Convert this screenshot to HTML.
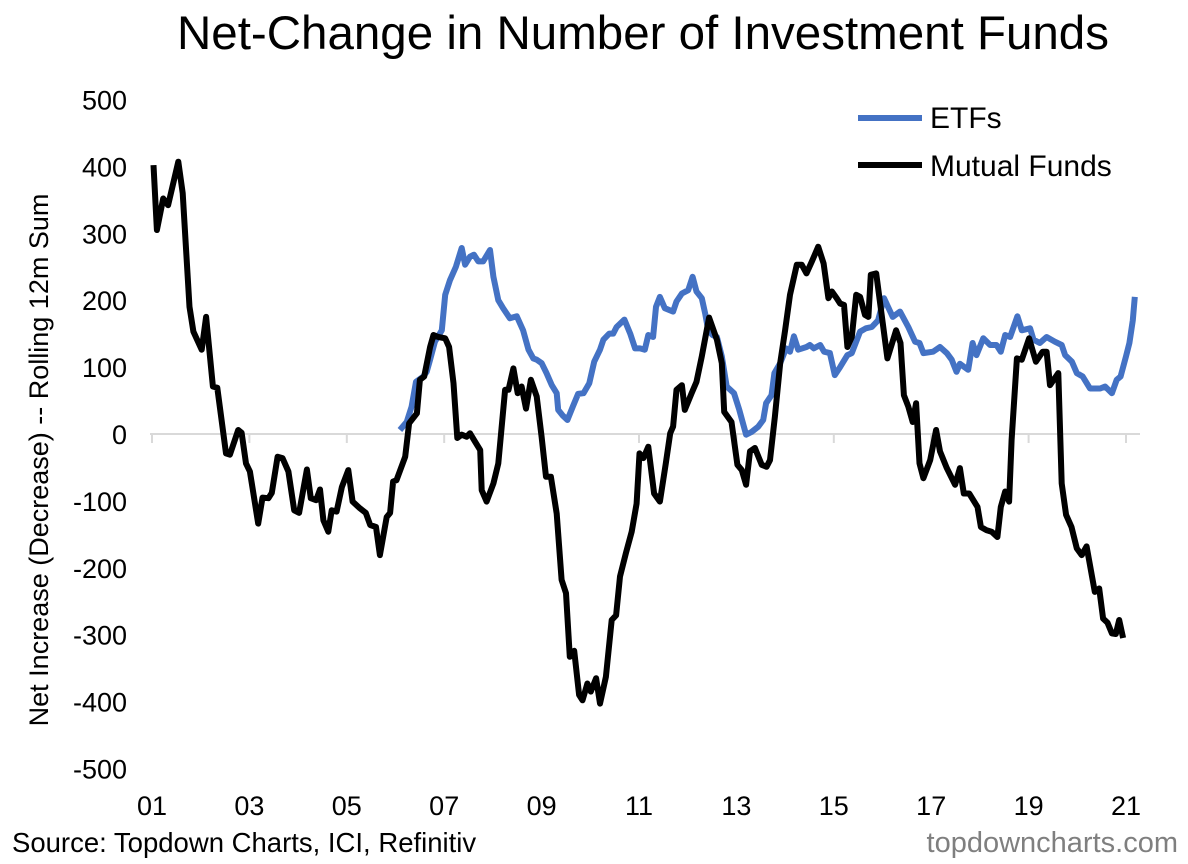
<!DOCTYPE html>
<html><head><meta charset="utf-8"><style>
body{margin:0;background:#fff;}
svg{display:block;font-family:"Liberation Sans",Arial,sans-serif;}
</style></head><body>
<svg id="chart" width="1188" height="864" viewBox="0 0 1188 864" xmlns="http://www.w3.org/2000/svg">
<text x="643" y="49" font-size="47.5" text-anchor="middle" fill="#000">Net-Change in Number of Investment Funds</text>
<text transform="translate(48,460) rotate(-90)" font-size="27" text-anchor="middle" fill="#000">Net Increase (Decrease) -- Rolling 12m Sum</text>
<g id="yticks"></g>
<g id="xticks"></g>
<g id="series"></g>
<g>
<line x1="858" y1="118" x2="922" y2="118" stroke="#4472C4" stroke-width="6"/>
<text x="930" y="128" font-size="30">ETFs</text>
<line x1="858" y1="165" x2="922" y2="165" stroke="#000" stroke-width="6"/>
<text x="930" y="176" font-size="30">Mutual Funds</text>
</g>
<text x="12" y="852" font-size="27.5" fill="#000">Source: Topdown Charts, ICI, Refinitiv</text>
<text x="1178" y="852" font-size="29" text-anchor="end" fill="#7f7f7f">topdowncharts.com</text>
</svg>
<script>
const yTicks=[500,400,300,200,100,0,-100,-200,-300,-400,-500];
const xTickYears=[2001,2003,2005,2007,2009,2011,2013,2015,2017,2019,2021];
const xTickLabels=["01","03","05","07","09","11","13","15","17","19","21"];
const mfOffsets=[0.03,0.10,0.23,0.33,0.54,0.63,0.77,0.85,1.02,1.11,1.25,1.34,1.52,1.60,1.77,1.84,1.93,2.01,2.18,2.27,2.39,2.46,2.58,2.68,2.80,2.92,3.02,3.18,3.26,3.37,3.45,3.52,3.62,3.69,3.79,3.90,4.03,4.12,4.27,4.39,4.48,4.60,4.68,4.82,4.89,4.95,5.02,5.20,5.28,5.44,5.50,5.59,5.71,5.78,5.88,6.02,6.10,6.19,6.27,6.36,6.46,6.53,6.63,6.74,6.77,6.87,7.01,7.11,7.25,7.32,7.42,7.51,7.59,7.68,7.78,7.90,8.00,8.09,8.19,8.31,8.41,8.50,8.58,8.67,8.77,8.84,8.94,9.01,9.12,9.20,9.32,9.44,9.53,9.61,9.73,9.85,9.95,10.01,10.09,10.19,10.31,10.43,10.55,10.64,10.70,10.77,10.88,10.94,11.08,11.18,11.29,11.44,11.60,11.70,11.75,11.90,12.02,12.11,12.20,12.28,12.38,12.52,12.62,12.69,12.79,12.90,13.00,13.10,13.24,13.34,13.44,13.55,13.68,13.79,13.89,13.96,14.06,14.13,14.21,14.28,14.37,14.46,14.54,14.64,14.71,14.76,14.87,14.98,15.10,15.28,15.37,15.44,15.53,15.62,15.69,15.76,15.84,15.98,16.10,16.18,16.32,16.49,16.59,16.67,16.78,16.95,17.02,17.14,17.24,17.36,17.43,17.52,17.60,17.65,17.76,17.86,18.01,18.15,18.29,18.37,18.44,18.61,18.68,18.77,18.88,18.99,19.09,19.19,19.36,19.45,19.53,19.62,19.71,19.79,19.86,19.94];
const mfValues=[402,305,352,342,407,360,190,153,126,175,71,69,-29,-31,6,2,-44,-56,-134,-95,-96,-88,-34,-36,-56,-114,-118,-53,-96,-99,-83,-129,-146,-114,-116,-79,-54,-101,-111,-118,-136,-139,-181,-124,-118,-71,-69,-34,16,31,81,86,130,148,145,143,130,76,-6,-1,-4,1,-11,-24,-84,-101,-74,-44,66,66,98,61,71,38,81,56,-4,-64,-64,-119,-218,-238,-333,-324,-390,-398,-373,-385,-365,-403,-363,-278,-271,-213,-178,-146,-104,-29,-36,-19,-89,-101,-44,1,11,66,73,36,61,78,116,174,141,106,33,18,-46,-54,-76,-26,-21,-46,-49,-39,26,106,155,208,253,253,240,258,280,255,203,213,203,195,193,130,145,208,205,178,175,238,240,180,113,155,136,58,41,18,46,-44,-66,-39,6,-26,-51,-76,-51,-89,-89,-109,-139,-144,-146,-154,-109,-86,-101,-9,113,111,143,108,123,123,73,91,-74,-121,-139,-171,-181,-168,-236,-231,-276,-282,-298,-299,-278,-305];
const etfOffsets=[5.09,5.23,5.33,5.42,5.57,5.64,5.71,5.81,5.95,6.02,6.12,6.24,6.36,6.43,6.53,6.61,6.70,6.80,6.94,7.01,7.11,7.21,7.35,7.49,7.62,7.73,7.83,7.90,8.00,8.10,8.21,8.31,8.34,8.43,8.53,8.64,8.75,8.86,8.98,9.08,9.20,9.27,9.39,9.47,9.54,9.70,9.82,9.92,10.02,10.12,10.19,10.29,10.35,10.43,10.53,10.70,10.77,10.88,11.01,11.10,11.18,11.29,11.36,11.42,11.51,11.60,11.70,11.80,11.95,12.06,12.20,12.31,12.45,12.55,12.61,12.72,12.78,12.90,13.02,13.10,13.18,13.27,13.44,13.51,13.59,13.72,13.80,13.92,14.02,14.13,14.28,14.37,14.54,14.66,14.78,14.91,15.03,15.21,15.36,15.53,15.67,15.76,15.84,16.04,16.18,16.32,16.42,16.52,16.59,16.76,16.85,16.93,17.07,17.21,17.34,17.43,17.52,17.62,17.77,17.86,18.03,18.10,18.23,18.37,18.54,18.68,18.75,18.89,18.99,19.11,19.26,19.47,19.57,19.71,19.81,19.89,20.00,20.07,20.14,20.18];
const etfValues=[6,18,41,78,86,93,111,138,155,208,230,250,278,253,265,268,258,258,275,235,200,188,173,176,155,126,113,111,106,91,73,61,36,28,21,41,60,61,76,108,126,141,150,150,160,171,150,128,128,126,148,145,190,205,188,183,198,210,215,235,213,203,180,155,148,145,116,71,61,36,-1,3,11,21,46,58,91,106,128,123,146,126,130,133,128,133,123,121,88,100,118,121,153,158,160,170,203,175,183,160,138,136,121,123,130,121,111,93,105,96,136,118,143,133,133,123,148,145,176,155,158,141,136,145,138,133,118,108,91,86,68,68,71,61,81,86,116,136,170,205];
const NS="http://www.w3.org/2000/svg";
const X0=152,PXY=48.7,Y0=434,PXV=0.669;
function xs(year){return X0+(year-2001)*PXY;}
function xo(off){return X0+off*PXY;}
function ys(v){return Y0-v*PXV;}
const yt=document.getElementById('yticks');
yTicks.forEach(v=>{const t=document.createElementNS(NS,'text');


t.setAttribute('x',127);t.setAttribute('y',ys(v)+10);t.setAttribute('text-anchor','end');t.setAttribute('font-size','27');t.textContent=v;yt.appendChild(t);});
const xt=document.getElementById('xticks');
const ax=document.createElementNS(NS,'line');


ax.setAttribute('x1',150);ax.setAttribute('x2',1140);ax.setAttribute('y1',ys(0));ax.setAttribute('y2',ys(0));ax.setAttribute('stroke','#d9d9d9');ax.setAttribute('stroke-width','2');xt.appendChild(ax);
xTickYears.forEach((yr,i)=>{const tk=document.createElementNS(NS,'line');


tk.setAttribute('x1',xs(yr));tk.setAttribute('x2',xs(yr));tk.setAttribute('y1',ys(0));tk.setAttribute('y2',ys(0)+9);tk.setAttribute('stroke','#d9d9d9');tk.setAttribute('stroke-width','2');xt.appendChild(tk);
const t=document.createElementNS(NS,'text');


t.setAttribute('x',xs(yr));t.setAttribute('y',815);t.setAttribute('text-anchor','middle');t.setAttribute('font-size','27');t.textContent=xTickLabels[i];xt.appendChild(t);});
const sg=document.getElementById('series');
function line(offs,vals,color,name){const p=document.createElementNS(NS,'polyline');


p.setAttribute('points',offs.map((o,i)=>xo(o).toFixed(1)+','+ys(vals[i]).toFixed(1)).join(' '));
p.setAttribute('fill','none');p.setAttribute('stroke',color);p.setAttribute('stroke-width','6');p.setAttribute('stroke-linejoin','round');sg.appendChild(p);}
line(etfOffsets,etfValues,'#4472C4','etf-line');
line(mfOffsets,mfValues,'#000000','mutual-funds-line');
</script>
</body></html>
